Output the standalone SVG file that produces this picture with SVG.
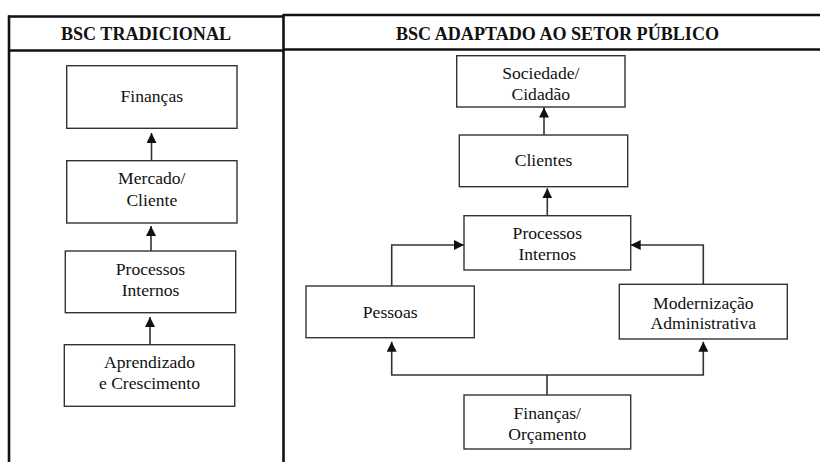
<svg xmlns="http://www.w3.org/2000/svg" width="820" height="462" viewBox="0 0 820 462">
<defs>
<style>
.frame{stroke:#111;stroke-width:2.6;fill:none}
.box{fill:#fff;stroke:#333;stroke-width:1.4}
text{font-family:'Liberation Serif','Times New Roman',serif;font-size:17.6px;fill:#111;text-anchor:middle}
.h{font-weight:bold;font-size:18.1px}
.c{stroke:#333;stroke-width:1.6;fill:none}
</style>
<marker id="ah" viewBox="0 0 10 10" refX="10" refY="5" markerWidth="10" markerHeight="10" markerUnits="userSpaceOnUse" orient="auto">
<path d="M0,0 L10,5 L0,10 z" fill="#111"/>
</marker>
</defs>
<rect width="820" height="462" fill="#fff"/>
<g id="table">
<line class="frame" x1="8" y1="16.5" x2="283" y2="16.5"/>
<line class="frame" x1="8" y1="50.5" x2="283" y2="50.5"/>
<line class="frame" x1="9" y1="15.5" x2="9" y2="462"/>
<line class="frame" x1="283.5" y1="14" x2="283.5" y2="462"/>
<line class="frame" x1="283" y1="15" x2="820" y2="15"/>
<line class="frame" x1="283" y1="49.5" x2="820" y2="49.5"/>
<text class="h" x="146" y="40">BSC TRADICIONAL</text>
<text class="h" x="557.5" y="40">BSC ADAPTADO AO SETOR PÚBLICO</text>
</g>
<g id="connectors">
<line class="c" x1="151.5" y1="160.7" x2="151.5" y2="133" marker-end="url(#ah)"/>
<line class="c" x1="151" y1="251" x2="151" y2="226" marker-end="url(#ah)"/>
<line class="c" x1="150" y1="344.7" x2="150" y2="317" marker-end="url(#ah)"/>
<line class="c" x1="544" y1="135" x2="544" y2="107.5" marker-end="url(#ah)"/>
<line class="c" x1="547.3" y1="215.7" x2="547.3" y2="188.3" marker-end="url(#ah)"/>
<path class="c" d="M391.7 286 V245 H464" marker-end="url(#ah)"/>
<path class="c" d="M703.3 284.3 V245 H630.7" marker-end="url(#ah)"/>
<path class="c" d="M547 395 V375"/>
<path class="c" d="M547 375 H391.7 V341.7" marker-end="url(#ah)"/>
<path class="c" d="M547 375 H703.3 V341.7" marker-end="url(#ah)"/>
</g>
<g id="financas">
<rect class="box" x="66.7" y="65.7" width="170.3" height="62.6"/>
<text x="151.8" y="102">Finanças</text>
</g>
<g id="mercado">
<rect class="box" x="66.7" y="160.7" width="170.3" height="62.3"/>
<text x="151.8" y="183.5">Mercado/</text>
<text x="151.8" y="205.5">Cliente</text>
</g>
<g id="processos-trad">
<rect class="box" x="65.3" y="251" width="170.4" height="61.7"/>
<text x="150.5" y="275">Processos</text>
<text x="150.5" y="296">Internos</text>
</g>
<g id="aprendizado">
<rect class="box" x="64.3" y="344.7" width="170.4" height="61.6"/>
<text x="149.5" y="367.7">Aprendizado</text>
<text x="149.5" y="389.3">e Crescimento</text>
</g>
<g id="sociedade">
<rect class="box" x="456.7" y="55.7" width="168.3" height="51.3"/>
<text x="540.8" y="79">Sociedade/</text>
<text x="540.8" y="100">Cidadão</text>
</g>
<g id="clientes">
<rect class="box" x="459.3" y="135" width="168.4" height="51.7"/>
<text x="543.5" y="165.7">Clientes</text>
</g>
<g id="processos-pub">
<rect class="box" x="464" y="215.7" width="166.7" height="54.3"/>
<text x="547.3" y="239">Processos</text>
<text x="547.3" y="260">Internos</text>
</g>
<g id="pessoas">
<rect class="box" x="306" y="286" width="168.3" height="51.7"/>
<text x="390.2" y="317.7">Pessoas</text>
</g>
<g id="modernizacao">
<rect class="box" x="619.3" y="284.3" width="168" height="54.7"/>
<text x="703.3" y="308.7">Modernização</text>
<text x="703.3" y="329.3">Administrativa</text>
</g>
<g id="financas-orcamento">
<rect class="box" x="464" y="395" width="166.7" height="54"/>
<text x="547.3" y="419.3">Finanças/</text>
<text x="547.3" y="440">Orçamento</text>
</g>
</svg>
